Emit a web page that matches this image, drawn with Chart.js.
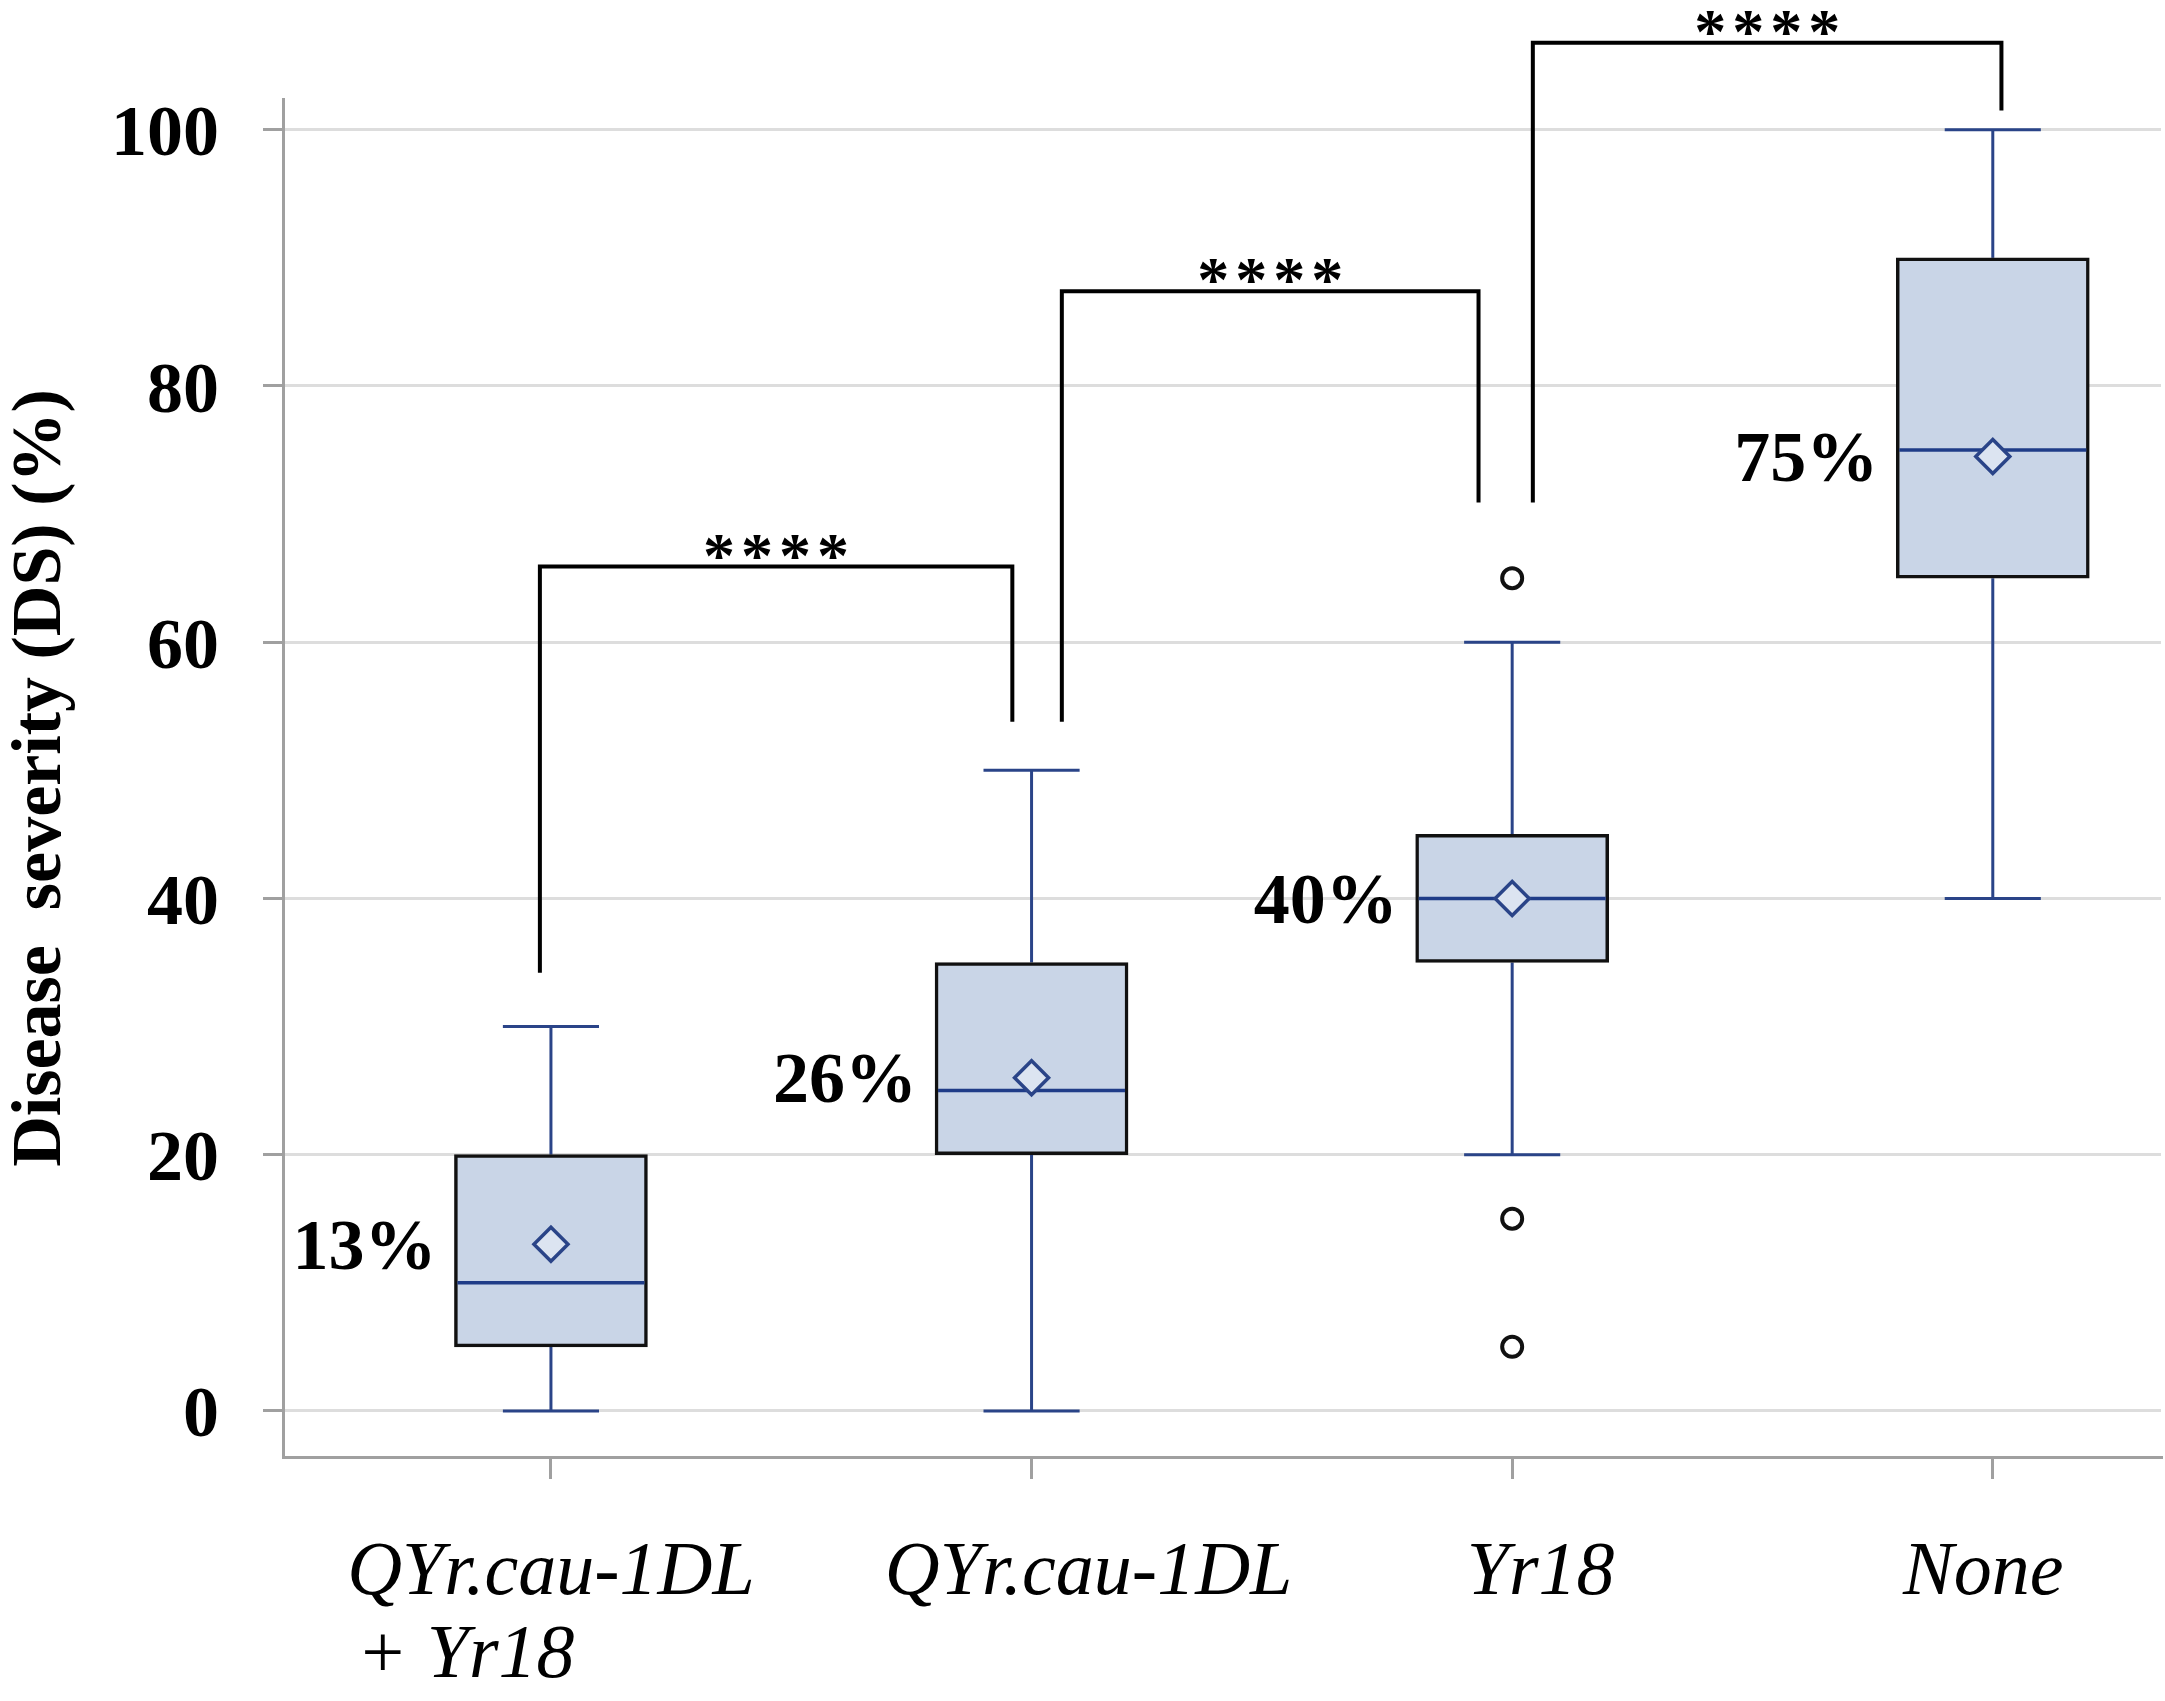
<!DOCTYPE html>
<html>
<head>
<meta charset="utf-8">
<script src="https://cdn.jsdelivr.net/npm/chart.js@4.4.1/dist/chart.umd.min.js"></script>
<style>
    html, body { margin: 0; padding: 0; background: #fff; }
    #wrap { width: 2165px; height: 1701px; }
</style>
</head>
<body>
<div id="wrap"><canvas id="dsChart" width="2165" height="1701"></canvas></div>
<script>
// Box plot values (disease severity, %)
var categories = ['QYr.cau-1DL + Yr18', 'QYr.cau-1DL', 'Yr18', 'None'];
var boxMin = [0, 0, 20, 40];
var boxQ1 = [5, 20, 35, 65];
var boxMedian = [10, 25, 40, 75];
var boxQ3 = [20, 35, 45, 90];
var boxMax = [30, 50, 60, 100];
var boxMean = [13, 26, 40, 74.5];
var meanLabels = ['13%', '26%', '40%', '75%'];
var outliers = [[], [], [65, 15, 5], []];

// x tick labels (spaces keep the lines where the original set them)
var tickLabels = [
    ['QYr.cau-1DL', '+ Yr18         '],
    '      QYr.cau-1DL',
    '   Yr18',
    'None '
];
var yTicks = [0, 20, 40, 60, 80, 100];

// significance brackets: x in category units, y in %
var bracketFrom = [0.977, 2.063, 3.043];
var bracketTo = [1.96, 2.93, 4.018];
var bracketTop = [65.9, 87.4, 106.8];
var bracketFromEnd = [34.2, 53.8, 70.9];
var bracketToEnd = [53.8, 70.9, 101.5];
var bracketMarks = ['****', '****', '****'];

var serif = '"Liberation Serif", "Times New Roman", serif';
var whiskerColor = '#2a4488';
var capHalf = 0.1;

function line(ctx, x1, y1, x2, y2) {
    ctx.beginPath();
    ctx.moveTo(x1, y1);
    ctx.lineTo(x2, y2);
    ctx.stroke();
}

var boxPlotPlugin = {
    id: 'boxPlot',
    beforeDatasetDraw: function(chart, args) {
        if (args.index !== 0) return;
        var ctx = chart.ctx, xs = chart.scales.x, ys = chart.scales.y;
        ctx.save();
        ctx.strokeStyle = whiskerColor;
        ctx.lineWidth = 3;
        for (var i = 0; i < categories.length; i++) {
            var cx = xs.getPixelForValue(i + 1);
            var l = xs.getPixelForValue(i + 1 - capHalf);
            var r = xs.getPixelForValue(i + 1 + capHalf);
            var yMax = ys.getPixelForValue(boxMax[i]);
            var yMin = ys.getPixelForValue(boxMin[i]);
            line(ctx, cx, ys.getPixelForValue(boxQ3[i]), cx, yMax);
            line(ctx, l, yMax, r, yMax);
            line(ctx, cx, ys.getPixelForValue(boxQ1[i]), cx, yMin);
            line(ctx, l, yMin, r, yMin);
        }
        ctx.restore();
    },
    afterDatasetDraw: function(chart, args) {
        if (args.index !== 0) return;
        var ctx = chart.ctx, ys = chart.scales.y;
        var bars = args.meta.data;
        ctx.save();
        ctx.strokeStyle = '#1f3c88';
        ctx.lineWidth = 3.5;
        for (var i = 0; i < bars.length; i++) {
            var half = bars[i].width / 2 - 3;
            var ym = ys.getPixelForValue(boxMedian[i]);
            line(ctx, bars[i].x - half, ym, bars[i].x + half, ym);
        }
        ctx.restore();
    },
    afterDraw: function(chart) {
        var ctx = chart.ctx, xs = chart.scales.x, ys = chart.scales.y;
        var bars = chart.getDatasetMeta(0).data;
        ctx.save();

        // mean labels left of each box
        ctx.fillStyle = '#000';
        ctx.font = 'bold 72px ' + serif;
        ctx.textAlign = 'right';
        ctx.textBaseline = 'middle';
        for (var i = 0; i < bars.length; i++) {
            ctx.fillText(meanLabels[i], bars[i].x - bars[i].width / 2 - 18,
                ys.getPixelForValue(boxMean[i]) + 6);
        }

        // brackets
        ctx.strokeStyle = '#000';
        ctx.lineWidth = 4;
        ctx.lineJoin = 'miter';
        ctx.font = 'bold 64px ' + serif;
        ctx.textAlign = 'center';
        ctx.textBaseline = 'alphabetic';
        ctx.letterSpacing = '6px';
        for (var j = 0; j < bracketFrom.length; j++) {
            var x1 = xs.getPixelForValue(bracketFrom[j]);
            var x2 = xs.getPixelForValue(bracketTo[j]);
            var yt = ys.getPixelForValue(bracketTop[j]);
            ctx.beginPath();
            ctx.moveTo(x1, ys.getPixelForValue(bracketFromEnd[j]));
            ctx.lineTo(x1, yt);
            ctx.lineTo(x2, yt);
            ctx.lineTo(x2, ys.getPixelForValue(bracketToEnd[j]));
            ctx.stroke();
            ctx.fillText(bracketMarks[j], (x1 + x2) / 2 + 3, yt + 10);
        }
        ctx.restore();
    }
};

var ctx = document.getElementById('dsChart');

var outlierPoints = [];
for (var i = 0; i < outliers.length; i++) {
    for (var k = 0; k < outliers[i].length; k++) {
        outlierPoints.push({ x: i + 1, y: outliers[i][k] });
    }
}

var myBoxChart = new Chart(ctx, {
    type: 'bar',
    data: {
        datasets: [{
            type: 'bar',
            data: categories.map(function(c, i) {
                return { x: i + 1, y: [boxQ1[i], boxQ3[i]] };
            }),
            backgroundColor: '#c9d5e7',
            borderColor: '#111111',
            borderWidth: 3.5,
            borderSkipped: false,
            barThickness: 193,
            order: 3
        }, {
            type: 'scatter',
            data: categories.map(function(c, i) {
                return { x: i + 1, y: boxMean[i] };
            }),
            pointStyle: 'rectRot',
            pointRadius: 17,
            borderWidth: 3.5,
            borderColor: whiskerColor,
            backgroundColor: '#dce4f1',
            order: 1
        }, {
            type: 'scatter',
            data: outlierPoints,
            pointStyle: 'circle',
            pointRadius: 10,
            borderWidth: 4,
            borderColor: '#111111',
            backgroundColor: '#ffffff',
            order: 1
        }]
    },
    options: {
        responsive: false,
        devicePixelRatio: 1,
        animation: false,
        layout: {
            autoPadding: false,
            padding: { top: 99, right: 4, bottom: 0, left: 0 }
        },
        plugins: {
            legend: { display: false },
            tooltip: { enabled: false }
        },
        scales: {
            x: {
                type: 'linear',
                offset: false,
                min: 0.4425,
                max: 4.35,
                afterFit: function(scale) {
                    scale.height = 244;
                    scale.paddingLeft = 0;
                    scale.paddingRight = 0;
                },
                grid: {
                    offset: false,
                    drawOnChartArea: false,
                    drawTicks: true,
                    tickLength: 22,
                    tickColor: '#a0a0a0',
                    lineWidth: 3
                },
                border: { color: '#a0a0a0', width: 3 },
                ticks: {
                    stepSize: 1,
                    includeBounds: false,
                    autoSkip: false,
                    maxRotation: 0,
                    padding: 53,
                    color: '#000',
                    font: { family: serif, size: 76, style: 'italic', lineHeight: 1.1 },
                    callback: function(v) {
                        return Number.isInteger(v) ? tickLabels[v - 1] : '';
                    }
                }
            },
            y: {
                min: -3.6,
                max: 102.4,
                afterFit: function(scale) {
                    scale.width = 283;
                    scale.paddingTop = 0;
                    scale.paddingBottom = 0;
                },
                afterBuildTicks: function(scale) {
                    scale.ticks = yTicks.map(function(v) { return { value: v }; });
                },
                grid: {
                    color: '#dddddd',
                    lineWidth: 3,
                    tickLength: 20,
                    tickColor: '#a0a0a0'
                },
                border: { color: '#a0a0a0', width: 3 },
                ticks: {
                    padding: 44,
                    labelOffset: 7,
                    color: '#000',
                    font: { family: serif, size: 72, weight: 'bold' }
                },
                title: {
                    display: true,
                    text: 'Disease  severity (DS) (%)',
                    color: '#000',
                    padding: 0,
                    font: { family: serif, size: 70, weight: 'bold' }
                }
            }
        }
    },
    plugins: [boxPlotPlugin]
});
</script>
</body>
</html>
